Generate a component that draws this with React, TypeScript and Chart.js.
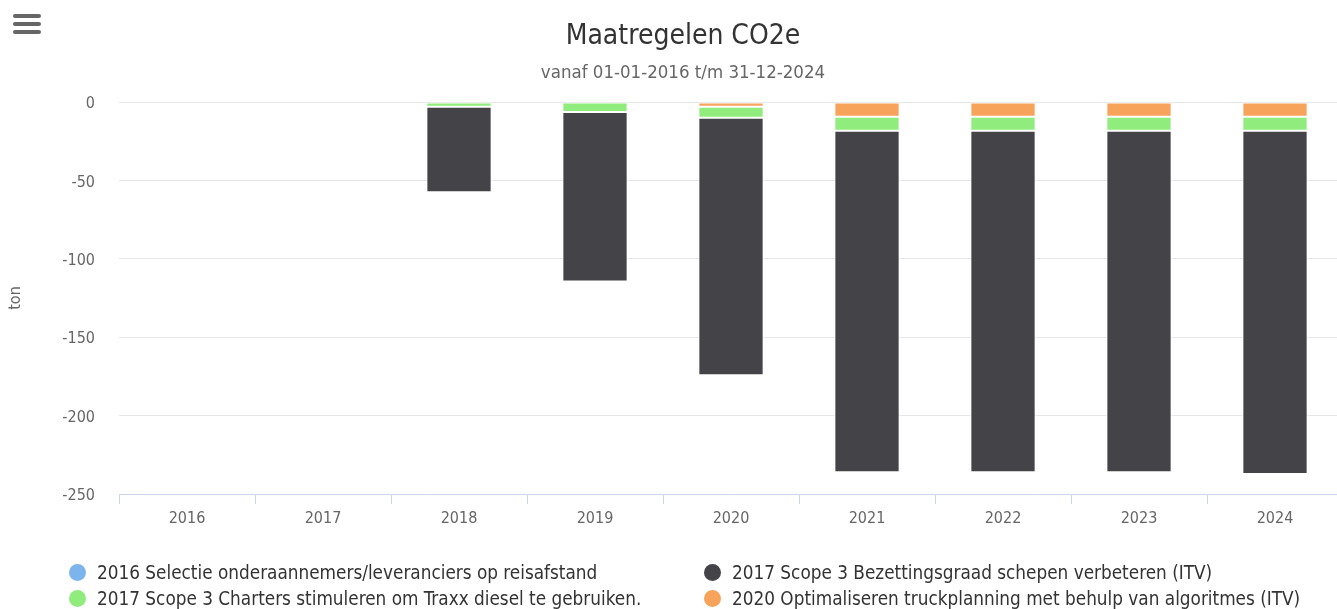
import React, { useEffect, useRef } from "react";
import { Chart, registerables } from "chart.js";

Chart.register(...registerables);

const categories = ["2016", "2017", "2018", "2019", "2020", "2021", "2022", "2023", "2024"];
const seriesNames = [
  "2016 Selectie onderaannemers/leveranciers op reisafstand",
  "2017 Scope 3 Bezettingsgraad schepen verbeteren (ITV)",
  "2017 Scope 3 Charters stimuleren om Traxx diesel te gebruiken.",
  "2020 Optimaliseren truckplanning met behulp van algoritmes (ITV)",
];
const seriesColors = ["#7cb5ec", "#434348", "#90ed7d", "#f7a35c"];
const selectieValues = [0, 0, 0, 0, 0, 0, 0, 0, 0];
const bezettingsgraadValues = [0, 0, -54.6, -108, -164.2, -217.9, -217.9, -217.9, -218.9];
const chartersValues = [0, 0, -3, -6.4, -7.1, -8.9, -8.9, -8.9, -8.9];
const truckplanningValues = [0, 0, 0, 0, -3, -9.4, -9.4, -9.4, -9.4];
const yTickValues = [0, -50, -100, -150, -200, -250];

const FONT = '"DejaVu Sans Condensed", "DejaVu Sans", sans-serif';

export default function App() {
  const canvasRef = useRef<HTMLCanvasElement>(null);

  useEffect(() => {
    if (!canvasRef.current) return;
    const seriesValues = [selectieValues, bezettingsgraadValues, chartersValues, truckplanningValues];
    // Chart.js stacks the first dataset nearest zero; Highcharts puts the last series nearest zero.
    const order = [3, 2, 1, 0];
    const chart = new Chart(canvasRef.current, {
      type: "bar",
      data: {
        labels: categories,
        datasets: order.map((i) => ({
          label: seriesNames[i],
          data: seriesValues[i],
          backgroundColor: seriesColors[i],
          borderColor: "#ffffff",
          borderWidth: 1,
          borderSkipped: false,
          categoryPercentage: 0.6,
          barPercentage: 0.8,
        })),
      },
      options: {
        animation: false,
        responsive: false,
        maintainAspectRatio: false,
        layout: { padding: { top: 102, right: 23, bottom: 0, left: 0 } },
        plugins: {
          legend: { display: false },
          title: { display: false },
          tooltip: { enabled: false },
        },
        scales: {
          x: {
            stacked: true,
            grid: {
              offset: true,
              drawOnChartArea: false,
              drawTicks: true,
              tickLength: 10,
              color: "#ccd6eb",
            },
            border: { display: true, color: "#ccd6eb" },
            ticks: {
              color: "#666666",
              font: { family: FONT, size: 16 },
              padding: 5,
              maxRotation: 0,
            },
            afterFit: (scale: any) => {
              scale.height = 115;
            },
          },
          y: {
            stacked: true,
            min: -250,
            max: 0,
            afterBuildTicks: (scale: any) => {
              scale.ticks = yTickValues.map((v) => ({ value: v }));
            },
            grid: { color: "#e6e6e6", drawTicks: false },
            border: { display: false },
            ticks: {
              color: "#666666",
              font: { family: FONT, size: 16 },
              padding: 24,
              labelOffset: 2,
            },
            title: {
              display: true,
              text: "ton",
              color: "#666666",
              font: { family: FONT, size: 16 },
              padding: { top: 6, bottom: 0 },
            },
            afterFit: (scale: any) => {
              scale.width = 119;
            },
          },
        },
      },
    });
    return () => chart.destroy();
  }, []);

  const legendItems = [
    { i: 0, left: 69, top: 561 },
    { i: 1, left: 704, top: 561 },
    { i: 2, left: 69, top: 587 },
    { i: 3, left: 704, top: 587 },
  ];

  return (
    <div
      style={{
        position: "fixed",
        left: 0,
        top: 0,
        width: 1337,
        height: 609,
        overflow: "hidden",
        background: "#ffffff",
        fontFamily: FONT,
      }}
    >
      <canvas
        ref={canvasRef}
        width={1366}
        height={609}
        style={{ position: "absolute", left: 0, top: 0, width: 1366, height: 609 }}
      />
      {[16, 24, 32].map((y) => (
        <div
          key={y}
          style={{
            position: "absolute",
            left: 13,
            top: y - 2,
            width: 28,
            height: 4,
            borderRadius: 2,
            background: "#666666",
          }}
        />
      ))}
      <div
        style={{
          position: "absolute",
          left: 0,
          width: 1366,
          top: 18,
          textAlign: "center",
          fontSize: 28,
          color: "#333333",
          lineHeight: "34px",
          whiteSpace: "nowrap",
        }}
      >
        Maatregelen CO2e
      </div>
      <div
        style={{
          position: "absolute",
          left: 0,
          width: 1366,
          top: 61,
          textAlign: "center",
          fontSize: 18.5,
          color: "#666666",
          lineHeight: "22px",
          whiteSpace: "nowrap",
        }}
      >
        vanaf 01-01-2016 t/m 31-12-2024
      </div>
      {legendItems.map(({ i, left, top }) => (
        <div
          key={i}
          style={{
            position: "absolute",
            left,
            top,
            height: 22,
            display: "flex",
            alignItems: "center",
            whiteSpace: "nowrap",
            fontSize: 18.8,
            color: "#333333",
          }}
        >
          <span
            style={{
              display: "inline-block",
              width: 17,
              height: 17,
              borderRadius: "50%",
              background: seriesColors[i],
              marginRight: 11,
              flexShrink: 0,
            }}
          />
          <span>{seriesNames[i]}</span>
        </div>
      ))}
    </div>
  );
}
